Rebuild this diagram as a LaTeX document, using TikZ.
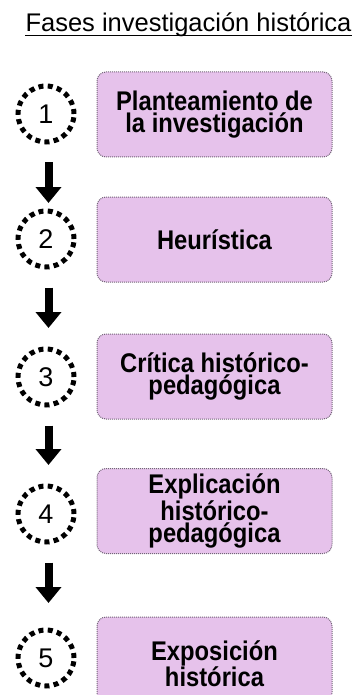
\documentclass[tikz,border=0pt]{standalone}
\usepackage{fontspec}
\setmainfont{Liberation Sans}
\newfontfamily\phasefont{Liberation Sans}[FakeStretch=0.88]
\usepackage{tikz}
\usetikzlibrary{arrows.meta}

\definecolor{phasefill}{RGB}{230,194,235}
\definecolor{phaseline}{RGB}{115,100,120}

\begin{document}
\begin{tikzpicture}[x=1pt, y=-1pt,
    phase/.style={draw=phaseline, fill=phasefill, line width=1pt, densely dotted,
      rounded corners=9pt, minimum width=235pt, minimum height=85pt, inner sep=0pt,
      align=center, font=\phasefont\bfseries\fontsize{27}{22}\selectfont},
    stage/.style={circle, draw=black, line width=5pt, dash pattern=on 5pt off 4.3pt,
      minimum size=56pt, inner sep=0pt, outer sep=0pt, font=\fontsize{27}{27}\selectfont},
    flow/.style={line width=8pt, shorten <=20.5pt, -{Triangle[width=25pt, length=16pt]}}]
    \useasboundingbox (0, 0) rectangle (363, 695);
    \clip (0, 0) rectangle (363, 695);

    % draw title with underline
    \node[anchor=base, inner sep=0pt, font=\fontsize{25.5}{25.5}\selectfont] (title) at (188.5, 32)
      {Fases investigación histórica};
    \draw[line width=1.5pt] ([yshift=-3.5pt]title.base west) -- ([yshift=-3.5pt]title.base east);

    % draw numbered stages
    \node[stage] (s1) at (46, 114) {1};
    \node[stage] (s2) at (46, 239) {2};
    \node[stage] (s3) at (46, 377) {3};
    \node[stage] (s4) at (46, 514) {4};
    \node[stage] (s5) at (46, 658) {5};

    % draw phase boxes
    \node[phase] (p1) at (214.5, 114.5) {Planteamiento de\\la investigación};
    \node[phase] (p2) at (214.5, 239.5) {Heurística};
    \node[phase] (p3) at (214.5, 376.5) {Crítica histórico-\\pedagógica};
    \node[phase] (p4) at (214.5, 511) {Explicación\\histórico-\\pedagógica};
    \node[phase, text height=55pt] (p5) at (214.5, 659.5) {Exposición\\histórica};

    % draw arrows between stages
    \draw[flow, shorten >=8pt] ([xshift=2.5pt]s1.south) -- ([xshift=2.5pt]s2.north);
    \draw[flow, shorten >=21pt] ([xshift=2.5pt]s2.south) -- ([xshift=2.5pt]s3.north);
    \draw[flow, shorten >=21pt] ([xshift=2.5pt]s3.south) -- ([xshift=2.5pt]s4.north);
    \draw[flow, shorten >=27pt] ([xshift=2.5pt]s4.south) -- ([xshift=2.5pt]s5.north);

\end{tikzpicture}
\end{document}
